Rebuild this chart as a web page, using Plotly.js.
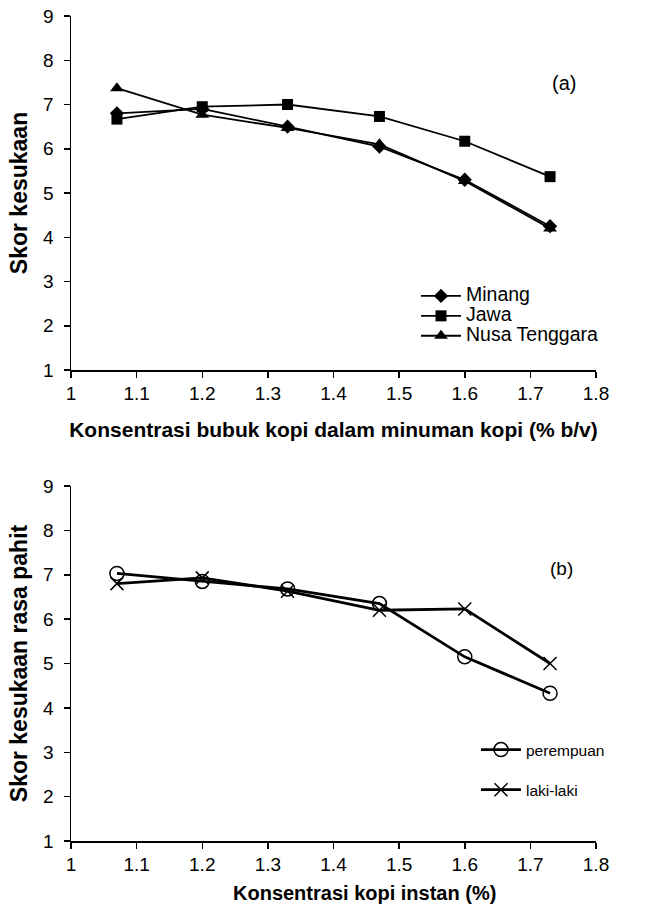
<!DOCTYPE html>
<html>
<head>
<meta charset="utf-8">
<script src="https://cdn.plot.ly/plotly-3.0.1.min.js"></script>
<style>html,body{margin:0;padding:0;background:#fff;}#chart{width:649px;height:913px;}</style>
</head>
<body>
<div id="chart"></div>
<script>
const xConc = [1.07, 1.2, 1.33, 1.47, 1.6, 1.73];
const minang = [6.8, 6.9, 6.5, 6.05, 5.3, 4.25];
const jawa = [6.67, 6.95, 7.0, 6.73, 6.17, 5.37];
const nusaTenggara = [7.37, 6.77, 6.47, 6.1, 5.27, 4.2];
const xInstan = [1.07, 1.2, 1.33, 1.47, 1.6, 1.73];
const perempuan = [7.03, 6.85, 6.68, 6.35, 5.15, 4.33];
const lakiLaki = [6.8, 6.93, 6.63, 6.2, 6.23, 5.0];
const seriesNamesA = ['Minang', 'Jawa', 'Nusa Tenggara'];
const seriesNamesB = ['perempuan', 'laki-laki'];
const xTicks = [1, 1.1, 1.2, 1.3, 1.4, 1.5, 1.6, 1.7, 1.8];
const xTickText = ['1', '1.1', '1.2', '1.3', '1.4', '1.5', '1.6', '1.7', '1.8'];
const yTicks = [1, 2, 3, 4, 5, 6, 7, 8, 9];

const FONT = 'Liberation Sans, Arial, sans-serif';
const bigA = s => '<span style="font-size:19.5px">' + s + '</span>';
const traces = [
  {x: xConc, y: minang, name: bigA(seriesNamesA[0]), mode: 'lines+markers', xaxis: 'x', yaxis: 'y', legend: 'legend',
   line: {color: '#000', width: 1.8}, marker: {symbol: 'diamond', size: 11, color: '#000'}},
  {x: xConc, y: jawa, name: bigA(seriesNamesA[1]), mode: 'lines+markers', xaxis: 'x', yaxis: 'y', legend: 'legend',
   line: {color: '#000', width: 1.8}, marker: {symbol: 'square', size: 11, color: '#000'}},
  {x: xConc, y: nusaTenggara, name: bigA(seriesNamesA[2]), mode: 'lines+markers', xaxis: 'x', yaxis: 'y', legend: 'legend',
   line: {color: '#000', width: 1.8}, marker: {symbol: 'triangle-up', size: 12, color: '#000'}},
  {x: xInstan, y: perempuan, name: seriesNamesB[0], mode: 'lines+markers', xaxis: 'x2', yaxis: 'y2', legend: 'legend2', legendgroup: 'p',
   line: {color: '#000', width: 2.8}, marker: {symbol: 'circle-open', size: 14, color: '#000', line: {width: 1.5, color: '#000'}}},
  {x: xInstan, y: lakiLaki, name: seriesNamesB[1], mode: 'lines+markers', xaxis: 'x2', yaxis: 'y2', legend: 'legend2', legendgroup: 'l',
   line: {color: '#000', width: 2.8}, marker: {symbol: 'x-thin-open', size: 13, color: '#000', line: {width: 1.5, color: '#000'}}}
];

function xAx(title, standoff) {
  return {
    domain: [71/649, 596/649], range: [1, 1.8], tickvals: xTicks, ticktext: xTickText,
    ticks: 'outside', ticklen: 6, tickwidth: 1.5, tickcolor: '#000', ticklabelstandoff: 0,
    showline: true, linecolor: '#000', linewidth: 1.5, showgrid: false, zeroline: false,
    tickfont: {family: FONT, size: 19, color: '#000'},
    title: {text: title, font: {family: FONT, size: 21, color: '#000', weight: 'bold'}, standoff: standoff}
  };
}
function yAx(title, dom, anchor) {
  return {
    domain: dom, range: [1, 9], tickvals: yTicks, anchor: anchor,
    ticks: 'outside', ticklen: 6, tickwidth: 1.5, tickcolor: '#000', ticklabelstandoff: 6,
    showline: true, linecolor: '#000', linewidth: 1.5, showgrid: false, zeroline: false,
    tickfont: {family: FONT, size: 19, color: '#000'},
    title: {text: title, font: {family: FONT, size: 23, color: '#000', weight: 'bold'}, standoff: 9}
  };
}

const layout = {
  width: 649, height: 913, margin: {l: 0, r: 0, t: 0, b: 0},
  paper_bgcolor: '#fff', plot_bgcolor: '#fff',
  font: {family: FONT, color: '#000'},
  xaxis: Object.assign(xAx('<b>Konsentrasi bubuk kopi dalam minuman kopi (% b/v)</b>', 19), {anchor: 'y'}),
  yaxis: yAx('<b>Skor kesukaan</b>', [(913-370)/913, (913-16)/913], 'x'),
  xaxis2: Object.assign(xAx('', 12), {anchor: 'y2'}),
  yaxis2: yAx('<b>Skor kesukaan rasa pahit</b>', [(913-841)/913, (913-486)/913], 'x2'),
  legend: {x: 416/649, y: (913-316)/913, xanchor: 'left', yanchor: 'middle', bgcolor: 'rgba(0,0,0,0)',
    font: {family: FONT, size: 13, color: '#000'}, itemwidth: 40, tracegroupgap: 0},
  legend2: {x: 476/649, y: (913-770)/913, xanchor: 'left', yanchor: 'middle', bgcolor: 'rgba(0,0,0,0)',
    font: {family: FONT, size: 15.5, color: '#000'}, itemwidth: 40, traceorder: 'grouped', tracegroupgap: 17},
  annotations: [
    {text: '(a)', x: 578/649, y: (913-70)/913, xref: 'paper', yref: 'paper', showarrow: false,
     font: {family: FONT, size: 20, color: '#000'}},
    {text: '(b)', x: 575/649, y: (913-569)/913, xref: 'paper', yref: 'paper', showarrow: false,
     font: {family: FONT, size: 19, color: '#000'}},
    {text: '<b>Konsentrasi kopi instan (%)</b>', x: 364/649, y: (913-893)/913, xref: 'paper', yref: 'paper',
     xanchor: 'center', yanchor: 'middle', showarrow: false,
     font: {family: FONT, size: 20, color: '#000', weight: 'bold'}}
  ],
  showlegend: true
};

Plotly.newPlot('chart', traces, layout, {displayModeBar: false, staticPlot: true});
</script>
</body>
</html>
